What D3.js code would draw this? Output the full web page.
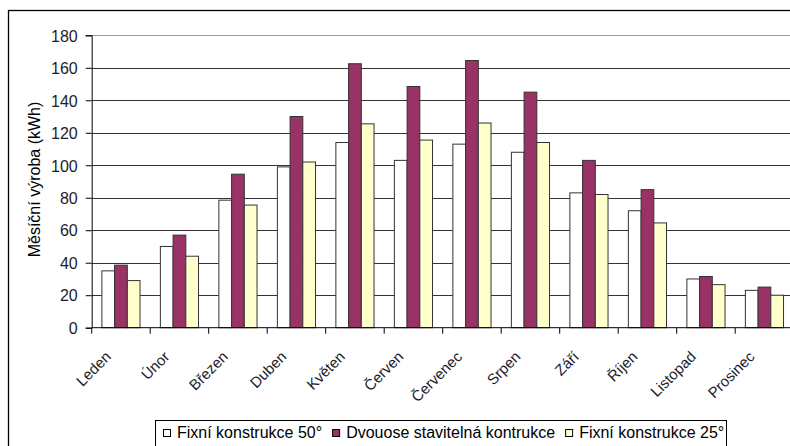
<!DOCTYPE html>
<html><head><meta charset="utf-8">
<script src="https://cdn.jsdelivr.net/npm/d3@7"></script>
<style>
html,body{margin:0;padding:0;background:#fff;overflow:hidden;}
svg{display:block;font-family:"Liberation Sans",Arial,sans-serif;}
</style></head>
<body>
<svg id="c" width="790" height="446"></svg>
<script>
const months = ["Leden","Únor","Březen","Duben","Květen","Červen","Červenec","Srpen","Září","Říjen","Listopad","Prosinec"];
const seriesNames = ["Fixní konstrukce 50°","Dvouose stavitelná kontrukce","Fixní konstrukce 25°"];
const fixed50 = [35, 50, 78.5, 99, 114, 103, 113, 108, 83, 72, 30, 23];
const dualAxis = [38.5, 57, 94.5, 130, 162.5, 148.5, 164.5, 145, 103, 85, 31.5, 25];
const fixed25 = [29, 44, 75.5, 102, 125.5, 115.5, 126, 114, 82, 64.5, 26.5, 20];
const yTicks = [0,20,40,60,80,100,120,140,160,180];
const colors = ["#FFFFFF","#993366","#FFFFCC"];
const yTitle = "Měsíční výroba (kWh)";

const seriesVals = [fixed50, dualAxis, fixed25];
const svg = d3.select("#c");

// outer border
svg.append("rect").attr("x",8.5).attr("y",10.5).attr("width",800).attr("height",460)
  .attr("fill","none").attr("stroke","#000").attr("stroke-width",1.3);

const pL = 91.7, pR = 793.7, pT = 35.3, pB = 327.7;
const x0 = d3.scaleBand().domain(months).range([pL,pR]).paddingInner(0).paddingOuter(0);
const x1 = d3.scaleBand().domain(d3.range(3)).range([0,x0.bandwidth()]).paddingInner(0).paddingOuter(0.8);
const y = d3.scaleLinear().domain([0,180]).range([pB,pT]);

// gridlines
svg.append("g").selectAll("line").data(yTicks.filter(d=>d>0)).join("line")
  .attr("x1",pL).attr("x2",pR).attr("y1",d=>Math.round(y(d))+0.5).attr("y2",d=>Math.round(y(d))+0.5)
  .attr("stroke",d=>d===180?"#999":"#333").attr("stroke-width",1);

// bars
const g = svg.append("g");
months.forEach((m,i)=>{
  seriesVals.forEach((vals,s)=>{
    g.append("rect")
      .attr("x",x0(m)+x1(s))
      .attr("y",y(vals[i]))
      .attr("width",x1.bandwidth())
      .attr("height",y(0)-y(vals[i]))
      .attr("fill",colors[s]).attr("stroke","#333").attr("stroke-width",1);
  });
});

// y axis
const yAxis = d3.axisLeft(y).tickValues(yTicks).tickSize(6).tickPadding(8);
const ya = svg.append("g").attr("transform",`translate(${pL},0)`).call(yAxis);
ya.select(".domain").attr("stroke","#000");
ya.selectAll(".tick line").attr("stroke","#000");
ya.selectAll("text").attr("font-size",16).attr("fill","#1c1c2c").attr("font-family","Liberation Sans, Arial, sans-serif").attr("dy","0.36em");

// x axis: ticks between categories
const xa = svg.append("g");
xa.append("line").attr("x1",pL).attr("x2",pR).attr("y1",pB).attr("y2",pB).attr("stroke","#000");
xa.selectAll("line.t").data(months.map(m=>x0(m)).concat([pR])).join("line").attr("class","t")
  .attr("x1",d=>d).attr("x2",d=>d).attr("y1",pB).attr("y2",pB+6).attr("stroke","#000");
xa.selectAll("text").data(months).join("text")
  .attr("transform",d=>`translate(${x0(d)+x0.bandwidth()/2-9},${pB+30}) rotate(-45)`)
  .attr("text-anchor","end")
  .attr("font-size",15).attr("fill","#1c1c2c").text(d=>d);

// y title
svg.append("text").attr("transform",`translate(40,${(pT+pB)/2-2}) rotate(-90)`)
  .attr("text-anchor","middle").attr("font-size",16).attr("fill","#000").text(yTitle);

// legend
const lg = svg.append("g");
lg.append("rect").attr("x",155.5).attr("y",420.5).attr("width",571).attr("height",40)
  .attr("fill","#fff").attr("stroke","#000").attr("stroke-width",1);
let lx = 163;
seriesNames.forEach((n,s)=>{
  lg.append("rect").attr("x",lx+0.5).attr("y",429.5).attr("width",7).attr("height",7)
    .attr("fill",colors[s]).attr("stroke","#000").attr("stroke-width",1);
  const t = lg.append("text").attr("x",lx+14).attr("y",438).attr("font-size",16).attr("fill","#000").text(n);
  lx += 14 + t.node().getComputedTextLength() + 10;
});
</script>
</body></html>
